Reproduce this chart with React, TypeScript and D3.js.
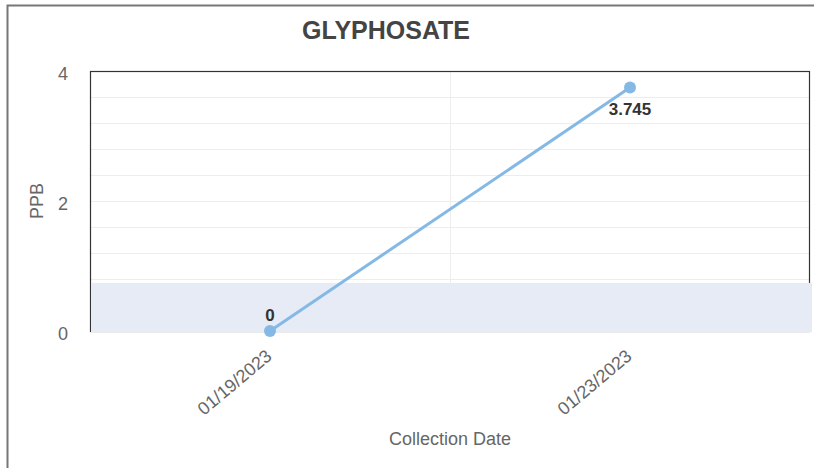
import { useEffect, useRef } from 'react';
import * as d3 from 'd3';

const title = 'GLYPHOSATE';
const dates = ['01/19/2023', '01/23/2023'];
const values = [0, 3.745];
const labelTicks = [0, 2, 4];
const gridTicks = [0.4, 0.8, 1.2, 1.6, 2, 2.4, 2.8, 3.2, 3.6];
const bandRange = [0, 0.74];

export default function App() {
	const svgRef = useRef<SVGSVGElement | null>(null);

	useEffect(() => {
		if (!svgRef.current) return;
		const width = 814;
		const height = 468;
		const margin = { top: 71, right: 4, bottom: 137, left: 90 };
		const font = 'Arial, "Liberation Sans", sans-serif';

		const svg = d3.select(svgRef.current).attr('width', width).attr('height', height);
		svg.selectAll('*').remove();

		// outer frame
		svg
			.append('path')
			.attr('d', `M7.5,${height} V5.5 H${width}`)
			.attr('fill', 'none')
			.attr('stroke', '#777')
			.attr('stroke-width', 2);

		const x = d3
			.scaleBand<string>()
			.domain(dates)
			.range([margin.left, width - margin.right]);

		const y = d3
			.scaleLinear()
			.domain([0, 4])
			.range([height - margin.bottom, margin.top]);

		// horizontal grid
		svg
			.append('g')
			.selectAll('line')
			.data(gridTicks)
			.join('line')
			.attr('x1', margin.left)
			.attr('x2', width - margin.right)
			.attr('y1', (d) => Math.round(y(d)) + 0.5)
			.attr('y2', (d) => Math.round(y(d)) + 0.5)
			.attr('stroke', '#ededed');

		// vertical grid between categories
		svg
			.append('g')
			.selectAll('line')
			.data(dates.slice(1))
			.join('line')
			.attr('x1', (d) => Math.round(x(d)!) + 0.5)
			.attr('x2', (d) => Math.round(x(d)!) + 0.5)
			.attr('y1', margin.top)
			.attr('y2', y(0))
			.attr('stroke', '#ededed');

		// plot frame
		svg
			.append('rect')
			.attr('x', margin.left + 0.5)
			.attr('y', margin.top + 0.5)
			.attr('width', width - margin.right - margin.left - 1)
			.attr('height', y(0) - margin.top)
			.attr('fill', 'none')
			.attr('stroke', '#333')
			.attr('stroke-width', 1.2);

		// plot band
		svg
			.append('rect')
			.attr('x', margin.left + 1)
			.attr('y', y(bandRange[1]))
			.attr('width', width - margin.right - margin.left + 1)
			.attr('height', y(bandRange[0]) - y(bandRange[1]) + 1)
			.attr('fill', '#e6ebf5');

		// y labels
		svg
			.append('g')
			.selectAll('text')
			.data(labelTicks)
			.join('text')
			.attr('x', 68)
			.attr('y', (d) => y(d) + 8.5)
			.attr('text-anchor', 'end')
			.attr('font-family', font)
			.attr('font-size', 18)
			.attr('fill', '#666')
			.text((d) => d);

		svg
			.append('text')
			.attr('transform', `translate(43,${y(2)}) rotate(-90)`)
			.attr('text-anchor', 'middle')
			.attr('font-family', font)
			.attr('font-size', 18)
			.attr('fill', '#666')
			.text('PPB');

		// x labels
		svg
			.append('g')
			.selectAll('text')
			.data(dates)
			.join('text')
			.attr('transform', (d) => `translate(${x(d)! + x.bandwidth() / 2 + 3},${y(0) + 27}) rotate(-40)`)
			.attr('text-anchor', 'end')
			.attr('font-family', font)
			.attr('font-size', 18)
			.attr('fill', '#666')
			.text((d) => d);

		svg
			.append('text')
			.attr('x', margin.left + (width - margin.right - margin.left) / 2)
			.attr('y', 445)
			.attr('text-anchor', 'middle')
			.attr('font-family', font)
			.attr('font-size', 18)
			.attr('fill', '#666')
			.text('Collection Date');

		// title
		svg
			.append('text')
			.attr('x', 386)
			.attr('y', 39)
			.attr('text-anchor', 'middle')
			.attr('font-family', font)
			.attr('font-size', 25)
			.attr('font-weight', 'bold')
			.attr('fill', '#444')
			.text(title);

		const points = dates.map((d, i) => ({ date: d, value: values[i] }));
		const cx = (d: { date: string }) => x(d.date)! + x.bandwidth() / 2;

		const line = d3
			.line<{ date: string; value: number }>()
			.x(cx)
			.y((d) => y(d.value));

		svg
			.append('path')
			.datum(points)
			.attr('d', line)
			.attr('fill', 'none')
			.attr('stroke', '#85b9e5')
			.attr('stroke-width', 3);

		svg
			.append('g')
			.selectAll('circle')
			.data(points)
			.join('circle')
			.attr('cx', cx)
			.attr('cy', (d) => y(d.value))
			.attr('r', 6)
			.attr('fill', '#85b9e5');

		// data labels
		svg
			.append('g')
			.selectAll('text')
			.data(points)
			.join('text')
			.attr('x', cx)
			.attr('y', (d) => (y(d.value) - margin.top < 30 ? y(d.value) + 27 : y(d.value) - 10))
			.attr('text-anchor', 'middle')
			.attr('font-family', font)
			.attr('font-size', 17)
			.attr('font-weight', 'bold')
			.attr('fill', '#333')
			.text((d) => d.value);
	}, []);

	return (
		<div style={{ position: 'absolute', left: 0, top: 0 }}>
			<svg ref={svgRef} />
		</div>
	);
}
